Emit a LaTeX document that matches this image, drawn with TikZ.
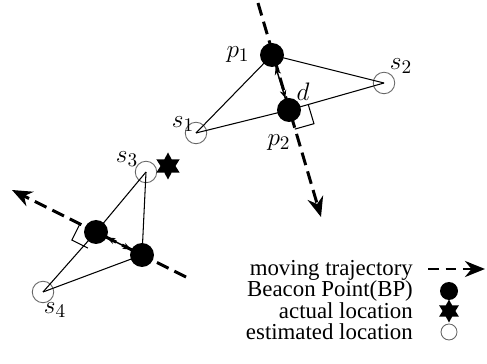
\documentclass[tikz,border=0pt]{standalone}
\usepackage{fontspec}
\setmainfont{Liberation Serif}
\usepackage{tikz}
\usetikzlibrary{arrows.meta, shapes.geometric, calc}

\begin{document}
\begin{tikzpicture}[x=0.02cm, y=-0.02cm, font=\fontsize{13}{15}\selectfont,
                bp/.style={circle, fill=black, inner sep=0pt, minimum size=4.8mm},
                est/.style={circle, draw=black!60, line width=0.5pt, inner sep=0pt, minimum size=4.3mm},
                act/.style={star, star points=6, star point ratio=1.8, fill=black, inner sep=0pt, minimum size=5.4mm},
                traj/.style={line width=1.7pt, dash pattern=on 2.6mm off 1.3mm, -{Stealth[length=4mm, width=3.2mm]}},
                lnk/.style={line width=0.6pt},
                dst/.style={{Stealth[length=1.6mm, width=1.3mm]}-{Stealth[length=1.6mm, width=1.3mm]}, line width=0.8pt},
                lbl/.style={font=\fontsize{15}{17}\selectfont}]

            \useasboundingbox (0,0) rectangle (487,364);

            % first beacon pair
            \coordinate (a0) at (258,3);
            \coordinate (a1) at (321,217);
            \node[bp] (p1) at (272,55) {};
            \node[bp] (p2) at (289,110) {};
            \node[est] (s1) at (196,133) {};
            \node[est] (s2) at (384,83) {};
            \draw[traj] (a0) -- (a1);
            \draw[lnk] (s1.center) -- (p1.center) -- (s2.center);
            \draw[lnk] (s1.center) -- (p2.center) -- (s2.center);
            \draw[dst] (p1) -- (p2);
            \coordinate (ra) at ($(p2)!0.4cm!(s2)$);
            \coordinate (rb) at ($(p2)!0.4cm!(a1)$);
            \draw[lnk] (ra) -- ($(ra)+(rb)-(p2)$) -- (rb);
            \node[lbl] at (238,55) {$p_1$};
            \node[lbl] at (279,143) {$p_2$};
            \node[lbl] at (303,92) {$d$};
            \node[lbl] at (183,124) {$s_1$};
            \node[lbl] at (401,66) {$s_2$};

            % second beacon pair
            \coordinate (b0) at (186,277);
            \coordinate (b1) at (12,190);
            \node[bp] (q1) at (96,232) {};
            \node[bp] (q2) at (142,255) {};
            \node[est] (s3) at (146,172) {};
            \node[est] (s4) at (43,292) {};
            \node[act] (x1) at (168,166) {};
            \draw[traj] (b0) -- (b1);
            \draw[lnk] (s3.center) -- (q1.center) -- (s4.center);
            \draw[lnk] (s3.center) -- (q2.center) -- (s4.center);
            \draw[dst] (q2) -- (q1);
            \coordinate (rc) at ($(q1)!0.36cm!(b1)$);
            \coordinate (rd) at ($(q1)!0.36cm!90:(b1)$);
            \draw[lnk] (rc) -- ($(rc)+(rd)-(q1)$) -- (rd);
            \node[lbl] at (127,159) {$s_3$};
            \node[lbl] at (55,310) {$s_4$};

            % legend
            \node[anchor=east] (l1) at (419,270) {moving trajectory};
            \node[anchor=east] (l2) at (419,291) {Beacon Point(BP)};
            \node[anchor=east] (l3) at (419,311) {actual location};
            \node[anchor=east] (l4) at (419,332) {estimated location};
            \coordinate (c0) at (428,269);
            \coordinate (c1) at (485,269);
            \draw[traj, dash pattern=on 2.2mm off 1.3mm] (c0) -- (c1);
            \node[bp, minimum size=3.6mm] (k2) at (449,291) {};
            \node[act, minimum size=4.6mm] (k3) at (449,311) {};
            \node[est, minimum size=3.2mm] (k4) at (449,332) {};

        \end{tikzpicture}
\end{document}
